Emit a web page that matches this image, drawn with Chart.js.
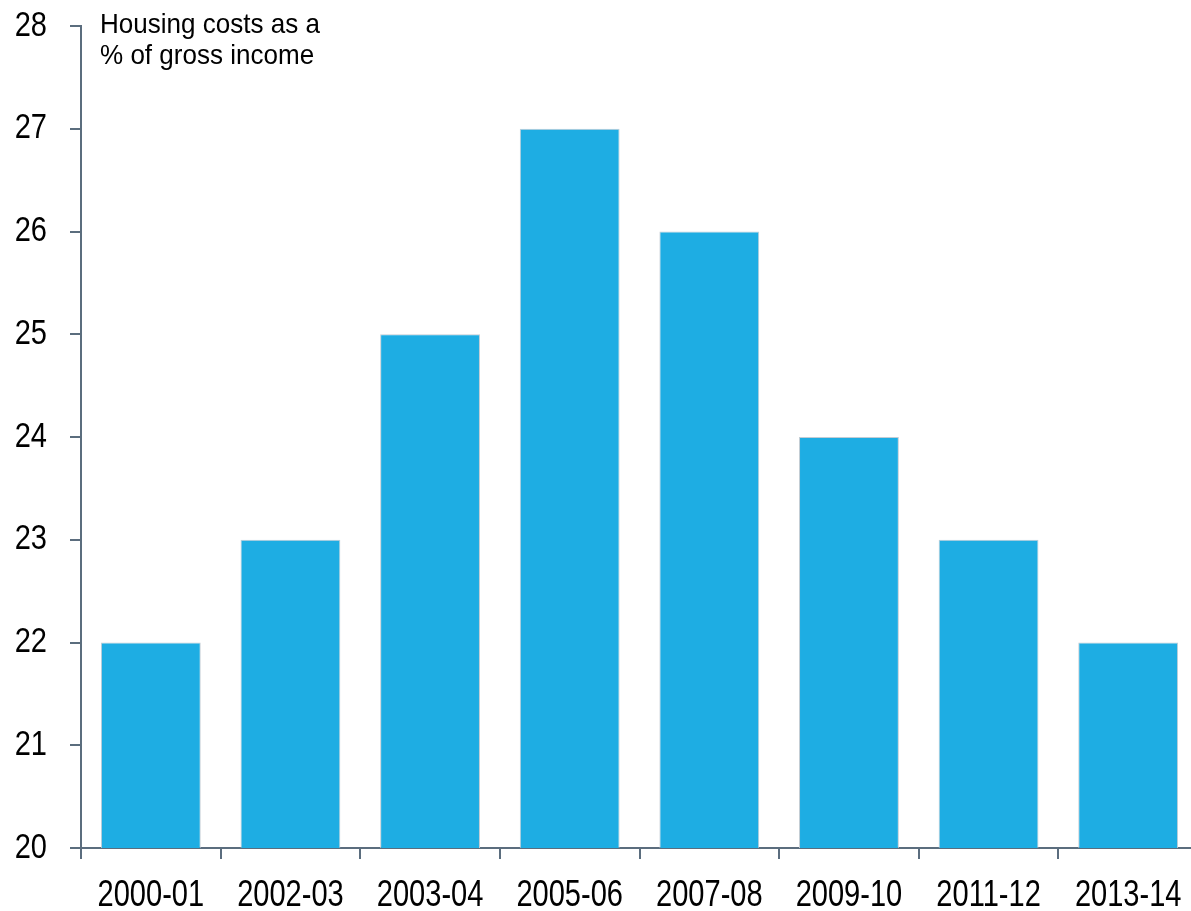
<!DOCTYPE html>
<html>
<head>
<meta charset="utf-8">
<script src="https://cdn.jsdelivr.net/npm/chart.js@4/dist/chart.umd.min.js"></script>
<style>
  html, body { margin: 0; padding: 0; background: #fff; overflow: hidden; }
  #wrap { position: relative; width: 1198px; height: 911px; }
</style>
</head>
<body>
<div id="wrap"><canvas id="c"></canvas></div>
<script>
const categories = ["2000-01", "2002-03", "2003-04", "2005-06", "2007-08", "2009-10", "2011-12", "2013-14"];
const housingCostShare = [22, 23, 25, 27, 26, 24, 23, 22];
const yTicks = [20, 21, 22, 23, 24, 25, 26, 27, 28];
const axisNote = ["Housing costs as a", "% of gross income"];

const FONT = "'Liberation Sans', Arial, sans-serif";
const AXIS = '#5b6d7e';

// Draws narrow (horizontally condensed) text, like Arial Narrow
function narrowText(ctx, text, x, y, size, squeeze, align, baseline) {
  ctx.save();
  ctx.font = size + 'px ' + FONT;
  ctx.textAlign = align;
  ctx.textBaseline = baseline;
  ctx.fillStyle = '#000';
  ctx.translate(x, y);
  ctx.scale(squeeze, 1);
  ctx.fillText(text, 0, 0);
  ctx.restore();
}

const labelPlugin = {
  id: 'labels',
  afterDraw(chart) {
    const ctx = chart.ctx;
    const a = chart.chartArea;
    const xs = chart.scales.x, ys = chart.scales.y;
    // y tick labels
    ys.ticks.forEach((t, i) => {
      narrowText(ctx, String(t.value), 47, ys.getPixelForTick(i), 35, 0.83, 'right', 'middle');
    });
    // x tick labels
    xs.ticks.forEach((t, i) => {
      narrowText(ctx, categories[i], xs.getPixelForTick(i), 906, 37, 0.785, 'center', 'alphabetic');
    });
    // axis note
    narrowText(ctx, axisNote[0], a.left + 19, 33, 28, 0.93, 'left', 'alphabetic');
    narrowText(ctx, axisNote[1], a.left + 19, 64, 28, 0.93, 'left', 'alphabetic');
  }
};

new Chart(document.getElementById('c'), {
  type: 'bar',
  data: {
    labels: categories,
    datasets: [{
      data: housingCostShare,
      backgroundColor: '#1eade3',
      borderColor: '#c2ccd4',
      borderWidth: 1,
      barPercentage: 0.715,
      categoryPercentage: 1
    }]
  },
  options: {
    responsive: true,
    maintainAspectRatio: false,
    animation: false,
    layout: { padding: { top: 26, right: 0, left: 0, bottom: 0 } },
    plugins: { legend: { display: false }, tooltip: { enabled: false } },
    scales: {
      x: {
        grid: { display: true, drawOnChartArea: false, drawTicks: true, tickLength: 11, color: AXIS, lineWidth: 2, offset: true },
        border: { display: true, color: AXIS, width: 2 },
        ticks: { display: false, autoSkip: false },
        afterFit(scale) { scale.height = 63; }
      },
      y: {
        min: 20, max: 28,
        afterBuildTicks(scale) { scale.ticks = yTicks.map(v => ({ value: v })); },
        grid: { display: true, drawOnChartArea: false, drawTicks: true, tickLength: 11, color: AXIS, lineWidth: 2 },
        border: { display: true, color: AXIS, width: 2 },
        ticks: { display: false },
        afterFit(scale) { scale.width = 81; }
      }
    }
  },
  plugins: [labelPlugin]
});
</script>
</body>
</html>
